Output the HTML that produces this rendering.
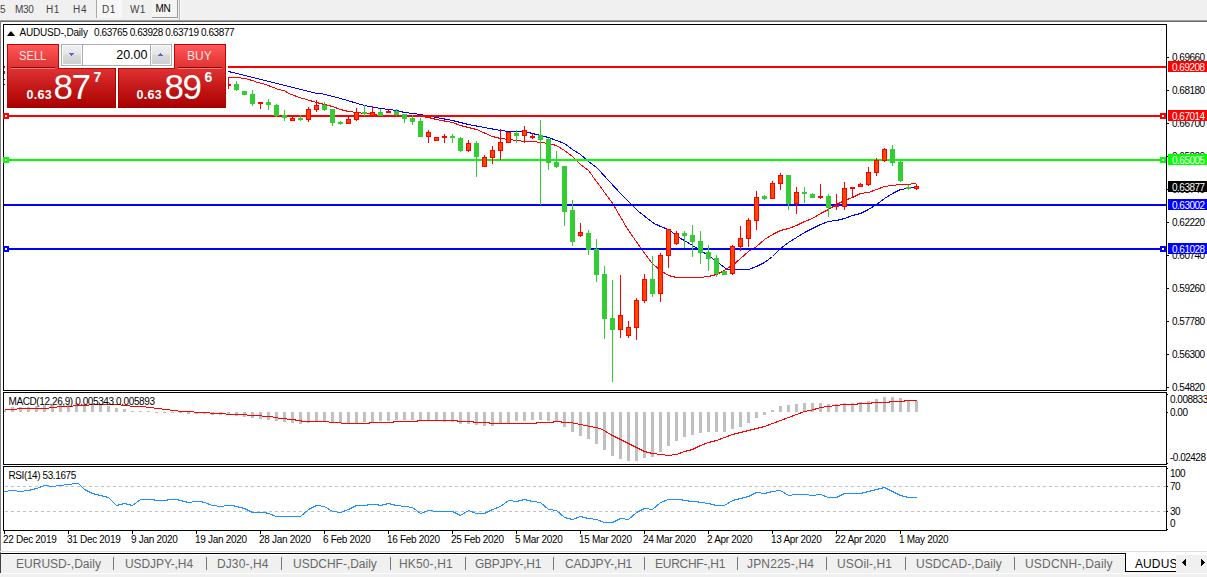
<!DOCTYPE html>
<html><head><meta charset="utf-8">
<style>
html,body{margin:0;padding:0;}
body{width:1207px;height:577px;overflow:hidden;background:#fff;position:relative;font-family:"Liberation Sans",sans-serif;}
.a{position:absolute;}
.t{position:absolute;white-space:nowrap;color:#000;font-size:10px;line-height:12px;letter-spacing:-0.45px;}
.tb{position:absolute;white-space:nowrap;color:#444;font-size:10px;line-height:14px;top:3px;letter-spacing:-0.3px;}
.ax{position:absolute;white-space:nowrap;color:#000;font-size:10px;line-height:12px;letter-spacing:-0.5px;left:1172px;}
.ax2{position:absolute;white-space:nowrap;color:#000;font-size:10px;line-height:12px;letter-spacing:-0.5px;left:1170px;}
.tk{position:absolute;left:1167px;width:2px;height:1px;background:#000;}
.pl{position:absolute;left:1168px;width:39px;height:11px;color:#fff;font-size:10px;line-height:13px;letter-spacing:-0.5px;}
.pl span{position:absolute;left:4px;top:0;}
.tab{position:absolute;top:556px;white-space:nowrap;color:#686868;font-size:12px;line-height:16px;letter-spacing:0.2px;}
.sep{position:absolute;top:557px;width:1px;height:13px;background:#777;}
.dt{position:absolute;top:534px;white-space:nowrap;color:#000;font-size:10px;line-height:12px;letter-spacing:-0.3px;}
</style></head><body>
<!-- toolbar -->
<div class="a" id="toolbar" style="left:0;top:0;width:1207px;height:20px;background:#f0f0f0;"></div>
<div class="a" style="left:0;top:20px;width:1207px;height:1px;background:#a0a0a0;"></div>
<div class="a" style="left:0;top:21px;width:1207px;height:1px;background:#696969;"></div>
<div class="a" style="left:0;top:21px;width:1px;height:532px;background:#808080;"></div>
<!-- toolbar buttons -->
<div class="a" style="left:96px;top:0;width:1px;height:18px;background:#a8a8a8;"></div>
<div class="a" style="left:97px;top:0;width:25px;height:18px;background:#f7f7f7;"></div>
<div class="a" style="left:152px;top:0;width:26px;height:18px;background:#f4f4f4;border-right:1px solid #9a9a9a;border-bottom:1px solid #9a9a9a;box-sizing:border-box;"></div>
<div class="a" style="left:179px;top:0;width:1px;height:20px;background:#b4b4b4;"></div><div class="a" style="left:180px;top:0;width:1px;height:20px;background:#fafafa;"></div>
<div class="tb" style="left:0px;">5</div>
<div class="tb" id="m30" style="left:15px;">M30</div>
<div class="tb" id="h1" style="left:46px;letter-spacing:0.5px;">H1</div>
<div class="tb" style="left:73px;letter-spacing:0.7px;">H4</div>
<div class="tb" style="left:102px;letter-spacing:0.5px;">D1</div>
<div class="tb" style="left:130px;letter-spacing:0.3px;">W1</div>
<div class="tb" style="left:155.5px;top:2px;color:#000;">MN</div>

<!-- chart frames -->
<div class="a" style="left:3px;top:24px;width:1164px;height:367px;border:1px solid #000;box-sizing:border-box;border-right:1px solid #000;"></div>
<div class="a" style="left:3px;top:392px;width:1164px;height:73px;border:1px solid #000;box-sizing:border-box;"></div>
<div class="a" style="left:3px;top:466px;width:1164px;height:65px;border:1px solid #000;box-sizing:border-box;"></div>
<div class="a" style="left:1166px;top:24px;width:1px;height:367px;background:#000;"></div><div class="a" style="left:1166px;top:392px;width:1px;height:73px;background:#000;"></div><div class="a" style="left:1166px;top:466px;width:1px;height:65px;background:#000;"></div>

<!-- CHART SVG -->
<svg class="a" id="chart" style="left:0;top:0;" width="1207" height="577" viewBox="0 0 1207 577">
<!--MA--><polyline points="228.5,71.5 248.8,76.5 273.0,82.5 297.3,88.5 316.5,93.5 321.5,93.5 340.5,98.5 364.5,105.5 380.5,108.5 396.5,110.5 404.5,112.5 412.5,113.5 420.5,114.5 436.5,117.5 452.5,120.5 468.5,124.5 484.5,127.5 500.5,130.5 508.5,131.5 516.5,131.5 524.5,131.5 532.5,133.5 540.5,135.5 548.5,137.5 556.5,140.5 564.5,143.5 572.5,149.5 580.5,154.5 588.5,161.5 596.5,167.5 601.2,172.5 616.8,189.5 631.4,204.5 639.7,212.5 654.3,223.5 660.5,226.5 668.5,229.5 676.5,235.5 680.5,238.5 684.5,240.5 692.5,245.5 700.5,250.5 708.5,255.5 716.5,261.5 724.5,267.5 726.5,269.5 732.5,269.5 740.5,269.5 748.5,269.5 756.5,266.5 764.5,262.5 772.5,256.5 780.5,248.5 788.5,242.5 796.5,237.5 804.5,232.5 812.5,228.5 820.5,224.5 828.5,221.5 836.5,220.5 844.5,218.5 852.5,215.5 860.5,213.5 868.5,209.5 876.5,204.5 884.5,198.5 892.5,193.5 900.5,189.5 908.5,188.5 913.5,187.5 917.5,187.5" fill="none" stroke="#0000ff" stroke-width="1" stroke-linejoin="round" shape-rendering="crispEdges"/>
<polyline points="228.5,77.5 240.5,77.5 242.0,78.5 245.5,78.5 248.5,79.5 252.5,80.5 257.5,82.5 263.0,83.5 268.1,85.5 273.4,87.5 278.5,89.5 283.8,90.5 289.0,93.5 294.2,95.5 299.5,97.5 306.5,99.5 316.5,102.5 324.5,104.5 332.5,106.5 340.5,109.5 348.5,111.5 356.5,112.5 364.5,113.5 368.5,113.5 372.5,114.5 380.5,115.5 396.5,115.5 412.5,116.5 420.5,116.5 428.5,117.5 436.5,119.5 452.5,122.5 460.5,125.5 476.5,129.5 492.5,136.5 500.5,138.5 508.5,139.5 516.5,140.5 524.5,141.5 532.5,141.5 540.5,142.5 548.5,143.5 556.5,145.5 564.5,150.5 572.5,156.5 580.5,164.5 588.5,170.5 596.5,181.5 612.7,203.5 627.2,228.5 639.7,246.5 652.2,263.5 660.5,270.5 668.5,275.5 676.5,277.5 684.5,277.5 692.5,277.5 700.5,277.5 708.5,276.5 712.5,275.5 716.5,274.5 720.5,272.5 724.5,270.5 728.5,267.5 732.5,265.5 740.5,258.5 748.5,251.5 756.5,246.5 764.5,239.5 772.5,234.5 780.5,230.5 788.5,228.5 796.5,225.5 804.5,221.5 812.5,218.5 820.5,213.5 828.5,209.5 836.5,204.5 844.5,200.5 852.5,197.5 860.5,193.5 868.5,192.5 876.5,189.5 884.5,186.5 892.5,185.5 900.5,184.5 908.5,184.5 913.5,183.5 915.5,183.5 917.5,185.5" fill="none" stroke="#ff0000" stroke-width="1" stroke-linejoin="round" shape-rendering="crispEdges"/>
<!--/MA-->
<!--HLINES--><rect x="228" y="66" width="938" height="2" fill="#ff0000" shape-rendering="crispEdges"/>
<rect x="4" y="115" width="1162" height="2" fill="#ff0000" shape-rendering="crispEdges"/>
<rect x="3" y="113" width="6" height="6" fill="#ff0000" shape-rendering="crispEdges"/><rect x="5" y="115" width="2" height="2" fill="#fff" shape-rendering="crispEdges"/>
<rect x="1160" y="113" width="6" height="6" fill="#ff0000" shape-rendering="crispEdges"/><rect x="1162" y="115" width="2" height="2" fill="#fff" shape-rendering="crispEdges"/>
<rect x="4" y="159" width="1162" height="2" fill="#00ff00" shape-rendering="crispEdges"/>
<rect x="3" y="157" width="6" height="6" fill="#00ff00" shape-rendering="crispEdges"/><rect x="5" y="159" width="2" height="2" fill="#fff" shape-rendering="crispEdges"/>
<rect x="1160" y="157" width="6" height="6" fill="#00ff00" shape-rendering="crispEdges"/><rect x="1162" y="159" width="2" height="2" fill="#fff" shape-rendering="crispEdges"/>
<rect x="4" y="204" width="1162" height="2" fill="#0000ff" shape-rendering="crispEdges"/>
<rect x="4" y="248" width="1162" height="2" fill="#0000ff" shape-rendering="crispEdges"/>
<rect x="3" y="246" width="6" height="6" fill="#0000ff" shape-rendering="crispEdges"/><rect x="5" y="248" width="2" height="2" fill="#fff" shape-rendering="crispEdges"/>
<rect x="1160" y="246" width="6" height="6" fill="#0000ff" shape-rendering="crispEdges"/><rect x="1162" y="248" width="2" height="2" fill="#fff" shape-rendering="crispEdges"/>
<!--/HLINES-->
<!--CANDLES--><g shape-rendering="crispEdges">
<rect x="228" y="77" width="1" height="12" fill="#ff0000"/><rect x="226" y="84" width="5" height="2" fill="#ff0000"/>
<rect x="236" y="81" width="1" height="10" fill="#32cd32"/><rect x="234" y="84" width="5" height="6" fill="#32cd32"/>
<rect x="244" y="91" width="1" height="4" fill="#32cd32"/><rect x="242" y="91" width="5" height="4" fill="#32cd32"/>
<rect x="252" y="90" width="1" height="16" fill="#32cd32"/><rect x="250" y="94" width="5" height="10" fill="#32cd32"/>
<rect x="260" y="102" width="1" height="7" fill="#ff0000"/><rect x="258" y="102" width="5" height="2" fill="#ff0000"/>
<rect x="268" y="99" width="1" height="11" fill="#32cd32"/><rect x="266" y="102" width="5" height="3" fill="#32cd32"/>
<rect x="276" y="104" width="1" height="13" fill="#32cd32"/><rect x="274" y="105" width="5" height="11" fill="#32cd32"/>
<rect x="284" y="110" width="1" height="11" fill="#32cd32"/><rect x="282" y="115" width="5" height="3" fill="#32cd32"/>
<rect x="292" y="116" width="1" height="5" fill="#ff0000"/><rect x="290" y="118" width="5" height="3" fill="#ff0000"/><rect x="291" y="119" width="3" height="1" fill="#ff4500"/>
<rect x="300" y="115" width="1" height="6" fill="#32cd32"/><rect x="298" y="118" width="5" height="2" fill="#32cd32"/>
<rect x="308" y="107" width="1" height="15" fill="#ff0000"/><rect x="306" y="109" width="5" height="11" fill="#ff0000"/><rect x="307" y="110" width="3" height="9" fill="#ff4500"/>
<rect x="316" y="100" width="1" height="12" fill="#ff0000"/><rect x="314" y="105" width="5" height="5" fill="#ff0000"/><rect x="315" y="106" width="3" height="3" fill="#ff4500"/>
<rect x="324" y="102" width="1" height="9" fill="#32cd32"/><rect x="322" y="105" width="5" height="5" fill="#32cd32"/>
<rect x="332" y="109" width="1" height="17" fill="#32cd32"/><rect x="330" y="109" width="5" height="14" fill="#32cd32"/>
<rect x="340" y="121" width="1" height="4" fill="#32cd32"/><rect x="338" y="122" width="5" height="2" fill="#32cd32"/>
<rect x="348" y="117" width="1" height="7" fill="#ff0000"/><rect x="346" y="119" width="5" height="5" fill="#ff0000"/><rect x="347" y="120" width="3" height="3" fill="#ff4500"/>
<rect x="356" y="108" width="1" height="13" fill="#ff0000"/><rect x="354" y="112" width="5" height="8" fill="#ff0000"/><rect x="355" y="113" width="3" height="6" fill="#ff4500"/>
<rect x="364" y="105" width="1" height="11" fill="#32cd32"/><rect x="362" y="112" width="5" height="2" fill="#32cd32"/>
<rect x="372" y="106" width="1" height="10" fill="#ff0000"/><rect x="370" y="112" width="5" height="4" fill="#ff0000"/><rect x="371" y="113" width="3" height="2" fill="#ff4500"/>
<rect x="380" y="109" width="1" height="7" fill="#32cd32"/><rect x="378" y="112" width="5" height="4" fill="#32cd32"/>
<rect x="388" y="110" width="1" height="3" fill="#ff0000"/><rect x="386" y="111" width="5" height="2" fill="#ff0000"/>
<rect x="396" y="109" width="1" height="7" fill="#32cd32"/><rect x="394" y="111" width="5" height="4" fill="#32cd32"/>
<rect x="404" y="114" width="1" height="9" fill="#32cd32"/><rect x="402" y="114" width="5" height="5" fill="#32cd32"/>
<rect x="412" y="115" width="1" height="10" fill="#32cd32"/><rect x="410" y="118" width="5" height="4" fill="#32cd32"/>
<rect x="420" y="118" width="1" height="19" fill="#32cd32"/><rect x="418" y="121" width="5" height="16" fill="#32cd32"/>
<rect x="428" y="130" width="1" height="13" fill="#ff0000"/><rect x="426" y="132" width="5" height="5" fill="#ff0000"/><rect x="427" y="133" width="3" height="3" fill="#ff4500"/>
<rect x="436" y="137" width="1" height="4" fill="#ff0000"/><rect x="434" y="137" width="5" height="4" fill="#ff0000"/><rect x="435" y="138" width="3" height="2" fill="#ff4500"/>
<rect x="444" y="134" width="1" height="9" fill="#ff0000"/><rect x="442" y="136" width="5" height="2" fill="#ff0000"/>
<rect x="452" y="134" width="1" height="9" fill="#32cd32"/><rect x="450" y="136" width="5" height="2" fill="#32cd32"/>
<rect x="460" y="137" width="1" height="15" fill="#32cd32"/><rect x="458" y="138" width="5" height="13" fill="#32cd32"/>
<rect x="468" y="140" width="1" height="12" fill="#ff0000"/><rect x="466" y="143" width="5" height="8" fill="#ff0000"/><rect x="467" y="144" width="3" height="6" fill="#ff4500"/>
<rect x="476" y="141" width="1" height="36" fill="#32cd32"/><rect x="474" y="143" width="5" height="14" fill="#32cd32"/>
<rect x="484" y="155" width="1" height="12" fill="#ff0000"/><rect x="482" y="157" width="5" height="10" fill="#ff0000"/><rect x="483" y="158" width="3" height="8" fill="#ff4500"/>
<rect x="492" y="146" width="1" height="18" fill="#ff0000"/><rect x="490" y="150" width="5" height="8" fill="#ff0000"/><rect x="491" y="151" width="3" height="6" fill="#ff4500"/>
<rect x="500" y="129" width="1" height="31" fill="#ff0000"/><rect x="498" y="142" width="5" height="9" fill="#ff0000"/><rect x="499" y="143" width="3" height="7" fill="#ff4500"/>
<rect x="508" y="132" width="1" height="11" fill="#ff0000"/><rect x="506" y="132" width="5" height="11" fill="#ff0000"/><rect x="507" y="133" width="3" height="9" fill="#ff4500"/>
<rect x="516" y="130" width="1" height="13" fill="#32cd32"/><rect x="514" y="133" width="5" height="3" fill="#32cd32"/>
<rect x="524" y="126" width="1" height="17" fill="#ff0000"/><rect x="522" y="130" width="5" height="6" fill="#ff0000"/><rect x="523" y="131" width="3" height="4" fill="#ff4500"/>
<rect x="532" y="133" width="1" height="6" fill="#ff0000"/><rect x="530" y="136" width="5" height="2" fill="#ff0000"/>
<rect x="540" y="120" width="1" height="85" fill="#32cd32"/><rect x="538" y="135" width="5" height="5" fill="#32cd32"/>
<rect x="548" y="138" width="1" height="32" fill="#32cd32"/><rect x="546" y="139" width="5" height="24" fill="#32cd32"/>
<rect x="556" y="151" width="1" height="17" fill="#32cd32"/><rect x="554" y="162" width="5" height="5" fill="#32cd32"/>
<rect x="564" y="166" width="1" height="60" fill="#32cd32"/><rect x="562" y="166" width="5" height="46" fill="#32cd32"/>
<rect x="572" y="200" width="1" height="46" fill="#32cd32"/><rect x="570" y="210" width="5" height="32" fill="#32cd32"/>
<rect x="580" y="223" width="1" height="14" fill="#ff0000"/><rect x="578" y="232" width="5" height="4" fill="#ff0000"/><rect x="579" y="233" width="3" height="2" fill="#ff4500"/>
<rect x="588" y="230" width="1" height="25" fill="#32cd32"/><rect x="586" y="233" width="5" height="17" fill="#32cd32"/>
<rect x="596" y="239" width="1" height="43" fill="#32cd32"/><rect x="594" y="249" width="5" height="26" fill="#32cd32"/>
<rect x="604" y="266" width="1" height="73" fill="#32cd32"/><rect x="602" y="274" width="5" height="45" fill="#32cd32"/>
<rect x="612" y="280" width="1" height="102" fill="#32cd32"/><rect x="610" y="318" width="5" height="12" fill="#32cd32"/>
<rect x="620" y="275" width="1" height="63" fill="#ff0000"/><rect x="618" y="315" width="5" height="15" fill="#ff0000"/><rect x="619" y="316" width="3" height="13" fill="#ff4500"/>
<rect x="628" y="321" width="1" height="17" fill="#ff0000"/><rect x="626" y="327" width="5" height="9" fill="#ff0000"/><rect x="627" y="328" width="3" height="7" fill="#ff4500"/>
<rect x="636" y="298" width="1" height="42" fill="#ff0000"/><rect x="634" y="300" width="5" height="28" fill="#ff0000"/><rect x="635" y="301" width="3" height="26" fill="#ff4500"/>
<rect x="644" y="274" width="1" height="29" fill="#ff0000"/><rect x="642" y="279" width="5" height="22" fill="#ff0000"/><rect x="643" y="280" width="3" height="20" fill="#ff4500"/>
<rect x="652" y="256" width="1" height="41" fill="#32cd32"/><rect x="650" y="279" width="5" height="15" fill="#32cd32"/>
<rect x="660" y="253" width="1" height="49" fill="#ff0000"/><rect x="658" y="255" width="5" height="39" fill="#ff0000"/><rect x="659" y="256" width="3" height="37" fill="#ff4500"/>
<rect x="668" y="229" width="1" height="39" fill="#ff0000"/><rect x="666" y="229" width="5" height="27" fill="#ff0000"/><rect x="667" y="230" width="3" height="25" fill="#ff4500"/>
<rect x="676" y="231" width="1" height="14" fill="#ff0000"/><rect x="674" y="233" width="5" height="11" fill="#ff0000"/><rect x="675" y="234" width="3" height="9" fill="#ff4500"/>
<rect x="684" y="231" width="1" height="17" fill="#32cd32"/><rect x="682" y="233" width="5" height="3" fill="#32cd32"/>
<rect x="692" y="225" width="1" height="32" fill="#32cd32"/><rect x="690" y="235" width="5" height="7" fill="#32cd32"/>
<rect x="700" y="231" width="1" height="33" fill="#32cd32"/><rect x="698" y="241" width="5" height="12" fill="#32cd32"/>
<rect x="708" y="245" width="1" height="26" fill="#32cd32"/><rect x="706" y="252" width="5" height="7" fill="#32cd32"/>
<rect x="716" y="255" width="1" height="22" fill="#32cd32"/><rect x="714" y="258" width="5" height="16" fill="#32cd32"/>
<rect x="724" y="271" width="1" height="4" fill="#32cd32"/><rect x="722" y="271" width="5" height="4" fill="#32cd32"/>
<rect x="732" y="245" width="1" height="30" fill="#ff0000"/><rect x="730" y="246" width="5" height="28" fill="#ff0000"/><rect x="731" y="247" width="3" height="26" fill="#ff4500"/>
<rect x="740" y="226" width="1" height="25" fill="#ff0000"/><rect x="738" y="238" width="5" height="9" fill="#ff0000"/><rect x="739" y="239" width="3" height="7" fill="#ff4500"/>
<rect x="748" y="218" width="1" height="29" fill="#ff0000"/><rect x="746" y="220" width="5" height="19" fill="#ff0000"/><rect x="747" y="221" width="3" height="17" fill="#ff4500"/>
<rect x="756" y="191" width="1" height="39" fill="#ff0000"/><rect x="754" y="197" width="5" height="24" fill="#ff0000"/><rect x="755" y="198" width="3" height="22" fill="#ff4500"/>
<rect x="764" y="195" width="1" height="5" fill="#32cd32"/><rect x="762" y="196" width="5" height="3" fill="#32cd32"/>
<rect x="772" y="181" width="1" height="18" fill="#ff0000"/><rect x="770" y="183" width="5" height="16" fill="#ff0000"/><rect x="771" y="184" width="3" height="14" fill="#ff4500"/>
<rect x="780" y="173" width="1" height="17" fill="#ff0000"/><rect x="778" y="175" width="5" height="9" fill="#ff0000"/><rect x="779" y="176" width="3" height="7" fill="#ff4500"/>
<rect x="788" y="175" width="1" height="35" fill="#32cd32"/><rect x="786" y="175" width="5" height="29" fill="#32cd32"/>
<rect x="796" y="187" width="1" height="27" fill="#ff0000"/><rect x="794" y="192" width="5" height="12" fill="#ff0000"/><rect x="795" y="193" width="3" height="10" fill="#ff4500"/>
<rect x="804" y="187" width="1" height="16" fill="#32cd32"/><rect x="802" y="192" width="5" height="2" fill="#32cd32"/>
<rect x="812" y="193" width="1" height="5" fill="#32cd32"/><rect x="810" y="194" width="5" height="4" fill="#32cd32"/>
<rect x="820" y="184" width="1" height="15" fill="#ff0000"/><rect x="818" y="196" width="5" height="2" fill="#ff0000"/>
<rect x="828" y="194" width="1" height="23" fill="#32cd32"/><rect x="826" y="196" width="5" height="12" fill="#32cd32"/>
<rect x="836" y="194" width="1" height="16" fill="#ff0000"/><rect x="834" y="205" width="5" height="2" fill="#ff0000"/>
<rect x="844" y="182" width="1" height="28" fill="#ff0000"/><rect x="842" y="188" width="5" height="19" fill="#ff0000"/><rect x="843" y="189" width="3" height="17" fill="#ff4500"/>
<rect x="852" y="187" width="1" height="11" fill="#ff0000"/><rect x="850" y="187" width="5" height="2" fill="#ff0000"/>
<rect x="860" y="183" width="1" height="4" fill="#ff0000"/><rect x="858" y="184" width="5" height="3" fill="#ff0000"/><rect x="859" y="185" width="3" height="1" fill="#ff4500"/>
<rect x="868" y="167" width="1" height="19" fill="#ff0000"/><rect x="866" y="172" width="5" height="13" fill="#ff0000"/><rect x="867" y="173" width="3" height="11" fill="#ff4500"/>
<rect x="876" y="158" width="1" height="18" fill="#ff0000"/><rect x="874" y="160" width="5" height="13" fill="#ff0000"/><rect x="875" y="161" width="3" height="11" fill="#ff4500"/>
<rect x="884" y="148" width="1" height="14" fill="#ff0000"/><rect x="882" y="149" width="5" height="12" fill="#ff0000"/><rect x="883" y="150" width="3" height="10" fill="#ff4500"/>
<rect x="892" y="145" width="1" height="21" fill="#32cd32"/><rect x="890" y="149" width="5" height="14" fill="#32cd32"/>
<rect x="900" y="161" width="1" height="21" fill="#32cd32"/><rect x="898" y="162" width="5" height="19" fill="#32cd32"/>
<rect x="908" y="185" width="1" height="5" fill="#32cd32"/><rect x="906" y="187" width="5" height="2" fill="#32cd32"/>
<rect x="916" y="185" width="1" height="5" fill="#ff0000"/><rect x="914" y="186" width="5" height="3" fill="#ff0000"/><rect x="915" y="187" width="3" height="1" fill="#ff4500"/>
</g>
<!--/CANDLES-->
<!--MACD--><g shape-rendering="crispEdges">
<rect x="4" y="410" width="2" height="2" fill="#c0c0c0"/><rect x="11" y="407" width="3" height="5" fill="#c0c0c0"/><rect x="19" y="407" width="3" height="5" fill="#c0c0c0"/><rect x="27" y="407" width="3" height="5" fill="#c0c0c0"/><rect x="35" y="406" width="3" height="6" fill="#c0c0c0"/><rect x="43" y="405" width="3" height="7" fill="#c0c0c0"/><rect x="51" y="405" width="3" height="7" fill="#c0c0c0"/><rect x="59" y="405" width="3" height="7" fill="#c0c0c0"/><rect x="67" y="404" width="3" height="8" fill="#c0c0c0"/><rect x="75" y="403" width="3" height="9" fill="#c0c0c0"/><rect x="83" y="404" width="3" height="8" fill="#c0c0c0"/><rect x="91" y="405" width="3" height="7" fill="#c0c0c0"/><rect x="99" y="405" width="3" height="7" fill="#c0c0c0"/><rect x="107" y="406" width="3" height="6" fill="#c0c0c0"/><rect x="115" y="408" width="3" height="4" fill="#c0c0c0"/><rect x="123" y="409" width="3" height="3" fill="#c0c0c0"/><rect x="131" y="411" width="3" height="1" fill="#c0c0c0"/><rect x="139" y="411" width="3" height="1" fill="#c0c0c0"/><rect x="147" y="411" width="3" height="1" fill="#c0c0c0"/><rect x="155" y="412" width="3" height="1" fill="#c0c0c0"/><rect x="163" y="412" width="3" height="1" fill="#c0c0c0"/><rect x="171" y="412" width="3" height="1" fill="#c0c0c0"/><rect x="179" y="412" width="3" height="1" fill="#c0c0c0"/><rect x="187" y="412" width="3" height="2" fill="#c0c0c0"/><rect x="195" y="412" width="3" height="2" fill="#c0c0c0"/><rect x="203" y="412" width="3" height="2" fill="#c0c0c0"/><rect x="211" y="412" width="3" height="3" fill="#c0c0c0"/><rect x="219" y="412" width="3" height="3" fill="#c0c0c0"/><rect x="227" y="412" width="3" height="3" fill="#c0c0c0"/><rect x="235" y="412" width="3" height="4" fill="#c0c0c0"/><rect x="243" y="412" width="3" height="5" fill="#c0c0c0"/><rect x="251" y="412" width="3" height="6" fill="#c0c0c0"/><rect x="259" y="412" width="3" height="7" fill="#c0c0c0"/><rect x="267" y="412" width="3" height="8" fill="#c0c0c0"/><rect x="275" y="412" width="3" height="9" fill="#c0c0c0"/><rect x="283" y="412" width="3" height="10" fill="#c0c0c0"/><rect x="291" y="412" width="3" height="11" fill="#c0c0c0"/><rect x="299" y="412" width="3" height="12" fill="#c0c0c0"/><rect x="307" y="412" width="3" height="11" fill="#c0c0c0"/><rect x="315" y="412" width="3" height="10" fill="#c0c0c0"/><rect x="323" y="412" width="3" height="10" fill="#c0c0c0"/><rect x="331" y="412" width="3" height="11" fill="#c0c0c0"/><rect x="339" y="412" width="3" height="11" fill="#c0c0c0"/><rect x="347" y="412" width="3" height="11" fill="#c0c0c0"/><rect x="355" y="412" width="3" height="11" fill="#c0c0c0"/><rect x="363" y="412" width="3" height="10" fill="#c0c0c0"/><rect x="371" y="412" width="3" height="10" fill="#c0c0c0"/><rect x="379" y="412" width="3" height="9" fill="#c0c0c0"/><rect x="387" y="412" width="3" height="9" fill="#c0c0c0"/><rect x="395" y="412" width="3" height="8" fill="#c0c0c0"/><rect x="403" y="412" width="3" height="8" fill="#c0c0c0"/><rect x="411" y="412" width="3" height="8" fill="#c0c0c0"/><rect x="419" y="412" width="3" height="8" fill="#c0c0c0"/><rect x="427" y="412" width="3" height="9" fill="#c0c0c0"/><rect x="435" y="412" width="3" height="9" fill="#c0c0c0"/><rect x="443" y="412" width="3" height="10" fill="#c0c0c0"/><rect x="451" y="412" width="3" height="10" fill="#c0c0c0"/><rect x="459" y="412" width="3" height="12" fill="#c0c0c0"/><rect x="467" y="412" width="3" height="12" fill="#c0c0c0"/><rect x="475" y="412" width="3" height="13" fill="#c0c0c0"/><rect x="483" y="412" width="3" height="14" fill="#c0c0c0"/><rect x="491" y="412" width="3" height="14" fill="#c0c0c0"/><rect x="499" y="412" width="3" height="12" fill="#c0c0c0"/><rect x="507" y="412" width="3" height="11" fill="#c0c0c0"/><rect x="515" y="412" width="3" height="9" fill="#c0c0c0"/><rect x="523" y="412" width="3" height="9" fill="#c0c0c0"/><rect x="531" y="412" width="3" height="8" fill="#c0c0c0"/><rect x="539" y="412" width="3" height="8" fill="#c0c0c0"/><rect x="547" y="412" width="3" height="9" fill="#c0c0c0"/><rect x="555" y="412" width="3" height="10" fill="#c0c0c0"/><rect x="563" y="412" width="3" height="15" fill="#c0c0c0"/><rect x="571" y="412" width="3" height="20" fill="#c0c0c0"/><rect x="579" y="412" width="3" height="24" fill="#c0c0c0"/><rect x="587" y="412" width="3" height="27" fill="#c0c0c0"/><rect x="595" y="412" width="3" height="32" fill="#c0c0c0"/><rect x="603" y="412" width="3" height="38" fill="#c0c0c0"/><rect x="611" y="412" width="3" height="44" fill="#c0c0c0"/><rect x="619" y="412" width="3" height="47" fill="#c0c0c0"/><rect x="627" y="412" width="3" height="49" fill="#c0c0c0"/><rect x="635" y="412" width="3" height="49" fill="#c0c0c0"/><rect x="643" y="412" width="3" height="46" fill="#c0c0c0"/><rect x="651" y="412" width="3" height="45" fill="#c0c0c0"/><rect x="659" y="412" width="3" height="40" fill="#c0c0c0"/><rect x="667" y="412" width="3" height="34" fill="#c0c0c0"/><rect x="675" y="412" width="3" height="29" fill="#c0c0c0"/><rect x="683" y="412" width="3" height="25" fill="#c0c0c0"/><rect x="691" y="412" width="3" height="23" fill="#c0c0c0"/><rect x="699" y="412" width="3" height="21" fill="#c0c0c0"/><rect x="707" y="412" width="3" height="20" fill="#c0c0c0"/><rect x="715" y="412" width="3" height="20" fill="#c0c0c0"/><rect x="723" y="412" width="3" height="20" fill="#c0c0c0"/><rect x="731" y="412" width="3" height="17" fill="#c0c0c0"/><rect x="739" y="412" width="3" height="15" fill="#c0c0c0"/><rect x="747" y="412" width="3" height="11" fill="#c0c0c0"/><rect x="755" y="412" width="3" height="6" fill="#c0c0c0"/><rect x="763" y="412" width="3" height="3" fill="#c0c0c0"/><rect x="771" y="410" width="3" height="2" fill="#c0c0c0"/><rect x="779" y="406" width="3" height="6" fill="#c0c0c0"/><rect x="787" y="405" width="3" height="7" fill="#c0c0c0"/><rect x="795" y="404" width="3" height="8" fill="#c0c0c0"/><rect x="803" y="403" width="3" height="9" fill="#c0c0c0"/><rect x="811" y="403" width="3" height="9" fill="#c0c0c0"/><rect x="819" y="403" width="3" height="9" fill="#c0c0c0"/><rect x="827" y="404" width="3" height="8" fill="#c0c0c0"/><rect x="835" y="404" width="3" height="8" fill="#c0c0c0"/><rect x="843" y="403" width="3" height="9" fill="#c0c0c0"/><rect x="851" y="403" width="3" height="9" fill="#c0c0c0"/><rect x="859" y="402" width="3" height="10" fill="#c0c0c0"/><rect x="867" y="401" width="3" height="11" fill="#c0c0c0"/><rect x="875" y="399" width="3" height="13" fill="#c0c0c0"/><rect x="883" y="397" width="3" height="15" fill="#c0c0c0"/><rect x="891" y="397" width="3" height="15" fill="#c0c0c0"/><rect x="899" y="398" width="3" height="14" fill="#c0c0c0"/><rect x="907" y="401" width="3" height="11" fill="#c0c0c0"/><rect x="915" y="401" width="3" height="11" fill="#c0c0c0"/>
</g>
<polyline points="4.5,409.5 12.5,409.5 16.5,409.5 17.5,408.5 44.5,408.5 48.5,408.5 49.5,407.5 56.5,407.5 57.5,406.5 72.5,406.5 73.5,405.5 88.5,405.5 89.5,404.5 120.5,404.5 121.5,405.5 129.5,405.5 130.5,406.5 145.5,406.5 146.5,407.5 153.5,407.5 154.5,408.5 161.5,408.5 162.5,409.5 169.5,409.5 170.5,410.5 177.5,410.5 178.5,411.5 193.5,411.5 194.5,412.5 209.5,412.5 210.5,413.5 225.5,413.5 226.5,414.5 240.5,414.5 252.5,415.5 270.5,416.5 280.5,418.5 292.5,419.5 304.5,421.5 320.5,421.5 336.5,422.5 345.5,423.5 368.5,423.5 370.5,422.5 392.5,422.5 394.5,421.5 416.5,421.5 418.5,420.5 456.5,420.5 458.5,421.5 472.5,421.5 474.5,422.5 488.5,422.5 490.5,423.5 535.5,423.5 537.5,422.5 552.5,422.5 554.5,421.5 560.5,421.5 562.5,422.5 570.5,422.5 580.5,424.5 590.5,426.5 600.5,428.5 605.5,431.5 612.5,435.5 620.5,439.5 628.5,443.5 636.5,447.5 644.5,451.5 652.5,453.5 660.5,454.5 668.5,455.5 676.5,454.5 684.5,451.5 692.5,449.5 700.5,445.5 708.5,442.5 716.5,440.5 724.5,437.5 732.5,434.5 740.5,432.5 748.5,430.5 756.5,428.5 764.5,426.5 772.5,423.5 780.5,420.5 788.5,417.5 796.5,414.5 804.5,411.5 810.5,410.5 820.5,407.5 828.5,406.5 836.5,405.5 844.5,404.5 856.5,404.5 858.5,403.5 870.5,403.5 872.5,402.5 888.5,402.5 890.5,401.5 903.5,401.5 905.5,400.5 916.5,400.5" fill="none" stroke="#ff0000" stroke-width="1" shape-rendering="crispEdges"/>
<!--/MACD-->
<!--RSI--><g shape-rendering="crispEdges">
<line x1="4" y1="486.5" x2="1166" y2="486.5" stroke="#c0c0c0" stroke-width="1" stroke-dasharray="3 3" stroke-dashoffset="-1"/>
<line x1="4" y1="511.5" x2="1166" y2="511.5" stroke="#c0c0c0" stroke-width="1" stroke-dasharray="3 3" stroke-dashoffset="-1"/>
</g>
<polyline points="4.5,491.5 12.5,490.5 20.5,491.5 28.5,490.5 36.5,488.5 44.5,485.5 52.5,486.5 60.5,485.5 68.5,484.5 75.5,483.5 78.5,483.5 84.5,489.5 92.5,493.5 100.5,495.5 108.5,497.5 116.5,505.5 124.5,503.5 132.5,505.5 140.5,499.5 152.5,499.5 156.5,500.5 164.5,500.5 170.5,499.5 176.5,499.5 180.5,500.5 188.5,502.5 196.5,501.5 200.5,501.5 204.5,502.5 212.5,505.5 220.5,506.5 228.5,505.5 232.5,505.5 244.5,508.5 252.5,512.5 264.5,512.5 268.5,513.5 276.5,516.5 300.5,516.5 308.5,509.5 316.5,505.5 324.5,506.5 332.5,511.5 340.5,512.5 348.5,509.5 356.5,505.5 364.5,505.5 370.5,504.5 376.5,504.5 380.5,505.5 388.5,503.5 396.5,505.5 404.5,506.5 412.5,507.5 420.5,513.5 428.5,510.5 436.5,511.5 452.5,511.5 460.5,515.5 468.5,510.5 476.5,513.5 484.5,513.5 492.5,509.5 500.5,506.5 508.5,500.5 516.5,501.5 524.5,499.5 532.5,501.5 540.5,502.5 548.5,509.5 556.5,510.5 564.5,517.5 572.5,519.5 580.5,516.5 588.5,518.5 596.5,519.5 604.5,522.5 612.5,522.5 620.5,518.5 628.5,519.5 636.5,512.5 644.5,508.5 652.5,509.5 660.5,502.5 668.5,499.5 680.5,499.5 684.5,500.5 692.5,501.5 696.5,501.5 700.5,502.5 708.5,503.5 716.5,505.5 724.5,505.5 732.5,500.5 740.5,498.5 748.5,496.5 756.5,492.5 764.5,493.5 772.5,491.5 780.5,490.5 788.5,495.5 796.5,494.5 804.5,494.5 812.5,495.5 820.5,494.5 828.5,497.5 836.5,497.5 844.5,493.5 860.5,493.5 868.5,491.5 876.5,489.5 884.5,487.5 892.5,491.5 900.5,495.5 908.5,497.5 916.5,497.5" fill="none" stroke="#1e90ff" stroke-width="1" shape-rendering="crispEdges"/>
<!--/RSI-->
</svg>

<!-- title -->
<svg class="a" style="left:7px;top:31px;z-index:5;" width="8" height="5" viewBox="0 0 8 5"><path d="M0 5 L3.5 0.5 L4.5 0.5 L8 5 Z" fill="#000"/></svg>
<div class="t" id="title" style="left:19.5px;top:27px;font-size:10px;letter-spacing:-0.18px;z-index:5;">AUDUSD-,Daily</div><div class="t" id="title2b" style="left:94px;top:27px;font-size:10px;letter-spacing:-0.41px;z-index:5;">0.63765 0.63928 0.63719 0.63877</div>


<div class="a" style="left:4px;top:25px;width:224px;height:84px;background:#fff;"></div>

<div class="a" style="left:4px;top:66px;width:1px;height:2px;background:#f00;z-index:6;"></div><div class="a" style="left:4px;top:71px;width:1px;height:3px;background:#f00;z-index:6;"></div><div class="a" style="left:4px;top:79px;width:1px;height:1px;background:#f00;z-index:6;"></div><div class="a" style="left:4px;top:84px;width:1px;height:1px;background:#00f;z-index:6;"></div>
<!-- sell -->
<div class="a" style="left:7px;top:44px;width:52px;height:24px;background:linear-gradient(#ff5a5a 0,#f04444 12px,#e03434 24px,#c41818 44px,#a80000 64px);background-size:100% 64px;background-repeat:no-repeat;"></div>
<div class="a" style="left:7px;top:68px;width:109px;height:40px;background:linear-gradient(#ff5a5a 0,#f04444 12px,#e03434 24px,#c41818 44px,#a80000 64px);background-size:100% 64px;background-position:0 -24px;background-repeat:no-repeat;"></div>
<div class="a" style="left:7px;top:44px;width:1px;height:64px;background:#c40000;"></div>
<div class="a" style="left:7px;top:44px;width:52px;height:1px;background:#c40000;"></div>
<div class="a" style="left:58px;top:44px;width:1px;height:25px;background:#c40000;"></div>
<div class="a" style="left:58px;top:68px;width:58px;height:1px;background:#b80808;"></div>
<div class="a" style="left:115px;top:68px;width:1px;height:40px;background:#a80000;"></div>
<div class="a" style="left:7px;top:107px;width:109px;height:1px;background:#a00000;"></div>
<div class="a" style="left:11px;top:67px;width:44px;height:1px;background:#8b0000;"></div>
<div class="a" style="left:11px;top:68px;width:44px;height:1px;background:#ff7878;"></div>
<!-- buy -->
<div class="a" style="left:174px;top:44px;width:52px;height:24px;background:linear-gradient(#ff5a5a 0,#f04444 12px,#e03434 24px,#c41818 44px,#a80000 64px);background-size:100% 64px;background-repeat:no-repeat;"></div>
<div class="a" style="left:118px;top:68px;width:108px;height:40px;background:linear-gradient(#ff5a5a 0,#f04444 12px,#e03434 24px,#c41818 44px,#a80000 64px);background-size:100% 64px;background-position:0 -24px;background-repeat:no-repeat;"></div>
<div class="a" style="left:225px;top:44px;width:1px;height:64px;background:#c40000;"></div>
<div class="a" style="left:174px;top:44px;width:52px;height:1px;background:#c40000;"></div>
<div class="a" style="left:174px;top:44px;width:1px;height:25px;background:#c40000;"></div>
<div class="a" style="left:118px;top:68px;width:57px;height:1px;background:#b80808;"></div>
<div class="a" style="left:118px;top:68px;width:1px;height:40px;background:#a80000;"></div>
<div class="a" style="left:118px;top:107px;width:108px;height:1px;background:#a00000;"></div>
<div class="a" style="left:178px;top:67px;width:44px;height:1px;background:#8b0000;"></div>
<div class="a" style="left:178px;top:68px;width:44px;height:1px;background:#ff7878;"></div>
<!-- spin -->
<div class="a" style="left:61px;top:44px;width:111px;height:22px;background:#fff;border:1px solid #abadb3;box-sizing:border-box;"></div>
<div class="a" style="left:62px;top:45px;width:20px;height:20px;background:linear-gradient(#f0f0f0,#e6e6e6 45%,#dadada 50%,#cfcfcf);border:1px solid #fafafa;box-sizing:border-box;"></div>
<div class="a" style="left:82px;top:45px;width:1px;height:20px;background:#abadb3;"></div>
<div class="a" style="left:151px;top:45px;width:20px;height:20px;background:linear-gradient(#f0f0f0,#e6e6e6 45%,#dadada 50%,#cfcfcf);border:1px solid #fafafa;box-sizing:border-box;"></div>
<div class="a" style="left:150px;top:45px;width:1px;height:20px;background:#abadb3;"></div>
<svg class="a" style="left:69px;top:53px;" width="5" height="3" viewBox="0 0 5 3" shape-rendering="crispEdges"><path d="M0 0H5V1H4V2H3V3H2V2H1V1H0Z" fill="#5566cc"/></svg>
<svg class="a" style="left:158px;top:53px;" width="5" height="3" viewBox="0 0 5 3" shape-rendering="crispEdges"><path d="M2 0H3V1H4V2H5V3H0V2H1V1H2Z" fill="#5566cc"/></svg>
<div class="a" id="lot" style="left:100.5px;top:48px;width:47px;text-align:right;font-size:12.5px;line-height:15px;color:#000;">20.00</div>
<div class="a" id="sell" style="left:18.5px;top:49px;font-size:12px;line-height:15px;color:#ffe4e4;transform:scaleX(.93);transform-origin:left;">SELL</div>
<div class="a" id="buy" style="left:187px;top:49px;font-size:12px;line-height:15px;color:#ffe4e4;transform:scaleX(1.0);transform-origin:left;">BUY</div>
<div class="a" id="s063" style="left:26.5px;top:88px;font-size:12.5px;line-height:14px;color:#fff;font-weight:bold;letter-spacing:0.3px;">0.63</div>
<div class="a" id="s87" style="left:53.5px;top:67px;font-size:35px;line-height:40px;color:#fff;letter-spacing:-1.4px;">87</div>
<div class="a" id="s7" style="left:93.5px;top:70px;font-size:14px;line-height:15px;color:#fff;font-weight:bold;">7</div>
<div class="a" id="b063" style="left:136.5px;top:88px;font-size:12.5px;line-height:14px;color:#fff;font-weight:bold;letter-spacing:0.3px;">0.63</div>
<div class="a" id="b89" style="left:164.5px;top:67px;font-size:35px;line-height:40px;color:#fff;letter-spacing:-1.4px;">89</div>
<div class="a" id="b6" style="left:204.5px;top:70px;font-size:14px;line-height:15px;color:#fff;font-weight:bold;">6</div>


<div class="tk" style="top:57px;"></div><div class="ax" style="top:52px;">0.69660</div>
<div class="tk" style="top:90px;"></div><div class="ax" style="top:85px;">0.68180</div>
<div class="tk" style="top:123px;"></div><div class="ax" style="top:118px;">0.66700</div>
<div class="tk" style="top:156px;"></div><div class="ax" style="top:151px;">0.65220</div>
<div class="tk" style="top:189px;"></div><div class="ax" style="top:184px;">0.63740</div>
<div class="tk" style="top:222px;"></div><div class="ax" style="top:217px;">0.62220</div>
<div class="tk" style="top:255px;"></div><div class="ax" style="top:250px;">0.60740</div>
<div class="tk" style="top:288px;"></div><div class="ax" style="top:283px;">0.59260</div>
<div class="tk" style="top:321px;"></div><div class="ax" style="top:316px;">0.57780</div>
<div class="tk" style="top:354px;"></div><div class="ax" style="top:349px;">0.56300</div>
<div class="tk" style="top:387px;"></div><div class="ax" style="top:382px;">0.54820</div>
<div class="ax2" style="top:394px;">0.008833</div>
<div class="ax2" style="top:407px;">0.00</div>
<div class="ax2" style="top:452px;">-0.02428</div>
<div class="ax2" style="top:468px;">100</div>
<div class="ax2" style="top:481px;">70</div>
<div class="ax2" style="top:506px;">30</div>
<div class="ax2" style="top:518px;">0</div>
<div class="tk" style="top:394px;width:1px"></div>
<div class="tk" style="top:412px;width:1px"></div>
<div class="tk" style="top:463px;width:1px"></div>
<div class="tk" style="top:468px;width:1px"></div>
<div class="tk" style="top:486px;width:1px"></div>
<div class="tk" style="top:511px;width:1px"></div>
<div class="tk" style="top:529px;width:1px"></div>
<div class="pl" style="top:61px;background:#ff0000;"><span>0.69208</span></div>
<div class="pl" style="top:110px;background:#ff0000;"><span>0.67014</span></div>
<div class="pl" style="top:154px;background:#00ff00;"><span>0.65005</span></div>
<div class="pl" style="top:181px;background:#000;"><span>0.63877</span></div>
<div class="pl" style="top:199px;background:#0000ff;"><span>0.63002</span></div>
<div class="pl" style="top:243px;background:#0000ff;"><span>0.61028</span></div>



<div class="a" style="left:0;top:551px;width:1207px;height:1px;background:#dedede;"></div>
<div class="a" style="left:0;top:555px;width:1207px;height:18px;background:#f0f0f0;"></div>
<div class="a" style="left:0;top:574px;width:1207px;height:3px;background:#f0f0f0;"></div>
<div class="a" style="left:0;top:553px;width:1126px;height:1px;background:#000;"></div>
<div class="a" style="left:0;top:553px;width:1px;height:20px;background:#404040;"></div>
<div class="a" style="left:1126px;top:552px;width:50px;height:19px;background:#fff;"></div>
<div class="a" style="left:1125px;top:553px;width:1px;height:19px;background:#000;"></div>
<div class="a" style="left:1125px;top:571px;width:51px;height:1px;background:#000;"></div>
<div class="tab" id="tab0" style="left:16px;letter-spacing:0.02px;">EURUSD-,Daily</div>
<div class="tab" id="tab1" style="left:125px;letter-spacing:-0.09px;">USDJPY-,H4</div>
<div class="tab" id="tab2" style="left:217px;letter-spacing:0.1px;">DJ30-,H4</div>
<div class="tab" id="tab3" style="left:293px;letter-spacing:-0.015px;">USDCHF-,Daily</div>
<div class="tab" id="tab4" style="left:399px;letter-spacing:0.15px;">HK50-,H1</div>
<div class="tab" id="tab5" style="left:475px;letter-spacing:-0.28px;">GBPJPY-,H1</div>
<div class="tab" id="tab6" style="left:565px;letter-spacing:-0.18px;">CADJPY-,H1</div>
<div class="tab" id="tab7" style="left:655px;letter-spacing:-0.26px;">EURCHF-,H1</div>
<div class="tab" id="tab8" style="left:747px;letter-spacing:0.17px;">JPN225-,H4</div>
<div class="tab" id="tab9" style="left:837px;letter-spacing:0.13px;">USOil-,H1</div>
<div class="tab" id="tab10" style="left:916px;letter-spacing:0.085px;">USDCAD-,Daily</div>
<div class="tab" id="tab11" style="left:1025px;letter-spacing:0.19px;">USDCNH-,Daily</div>
<div class="sep" style="left:113px;"></div>
<div class="sep" style="left:206px;"></div>
<div class="sep" style="left:281px;"></div>
<div class="sep" style="left:390px;"></div>
<div class="sep" style="left:465px;"></div>
<div class="sep" style="left:553px;"></div>
<div class="sep" style="left:644px;"></div>
<div class="sep" style="left:737px;"></div>
<div class="sep" style="left:826px;"></div>
<div class="sep" style="left:905px;"></div>
<div class="sep" style="left:1014px;"></div>
<div class="a" style="left:1126px;top:553px;width:50px;height:18px;overflow:hidden;"><div class="tab" id="atab" style="left:9px;top:3px;color:#000;letter-spacing:0.1px;">AUDUSD</div></div>
<svg class="a" style="left:1182px;top:559px;" width="4" height="7" viewBox="0 0 4 7" shape-rendering="crispEdges"><path d="M4 0 L4 7 L3 7 L3 6 L2 6 L2 5 L1 5 L1 4 L0 4 L0 3 L1 3 L1 2 L2 2 L2 1 L3 1 L3 0 Z" fill="#000"/></svg>
<svg class="a" style="left:1201px;top:559px;" width="4" height="7" viewBox="0 0 4 7" shape-rendering="crispEdges"><path d="M0 0 L0 7 L1 7 L1 6 L2 6 L2 5 L3 5 L3 4 L4 4 L4 3 L3 3 L3 2 L2 2 L2 1 L1 1 L1 0 Z" fill="#000"/></svg>
<div class="dt" style="left:3px;">22 Dec 2019</div><div class="a" style="left:4px;top:531px;width:1px;height:3px;background:#000;"></div>
<div class="dt" style="left:67px;">31 Dec 2019</div><div class="a" style="left:68px;top:531px;width:1px;height:3px;background:#000;"></div>
<div class="dt" style="left:131px;">9 Jan 2020</div><div class="a" style="left:132px;top:531px;width:1px;height:3px;background:#000;"></div>
<div class="dt" style="left:195px;">19 Jan 2020</div><div class="a" style="left:196px;top:531px;width:1px;height:3px;background:#000;"></div>
<div class="dt" style="left:259px;">28 Jan 2020</div><div class="a" style="left:260px;top:531px;width:1px;height:3px;background:#000;"></div>
<div class="dt" style="left:323px;">6 Feb 2020</div><div class="a" style="left:324px;top:531px;width:1px;height:3px;background:#000;"></div>
<div class="dt" style="left:387px;">16 Feb 2020</div><div class="a" style="left:388px;top:531px;width:1px;height:3px;background:#000;"></div>
<div class="dt" style="left:451px;">25 Feb 2020</div><div class="a" style="left:452px;top:531px;width:1px;height:3px;background:#000;"></div>
<div class="dt" style="left:515px;">5 Mar 2020</div><div class="a" style="left:516px;top:531px;width:1px;height:3px;background:#000;"></div>
<div class="dt" style="left:579px;">15 Mar 2020</div><div class="a" style="left:580px;top:531px;width:1px;height:3px;background:#000;"></div>
<div class="dt" style="left:643px;">24 Mar 2020</div><div class="a" style="left:644px;top:531px;width:1px;height:3px;background:#000;"></div>
<div class="dt" style="left:707px;">2 Apr 2020</div><div class="a" style="left:708px;top:531px;width:1px;height:3px;background:#000;"></div>
<div class="dt" style="left:771px;">13 Apr 2020</div><div class="a" style="left:772px;top:531px;width:1px;height:3px;background:#000;"></div>
<div class="dt" style="left:835px;">22 Apr 2020</div><div class="a" style="left:836px;top:531px;width:1px;height:3px;background:#000;"></div>
<div class="dt" style="left:899px;">1 May 2020</div><div class="a" style="left:900px;top:531px;width:1px;height:3px;background:#000;"></div>

<div class="t" id="macdt" style="left:8.5px;top:396px;letter-spacing:-0.4px;">MACD(12,26,9) 0.005343 0.005893</div>
<div class="t" id="rsit" style="left:8.5px;top:470px;letter-spacing:-0.4px;">RSI(14) 53.1675</div>
</body></html>
